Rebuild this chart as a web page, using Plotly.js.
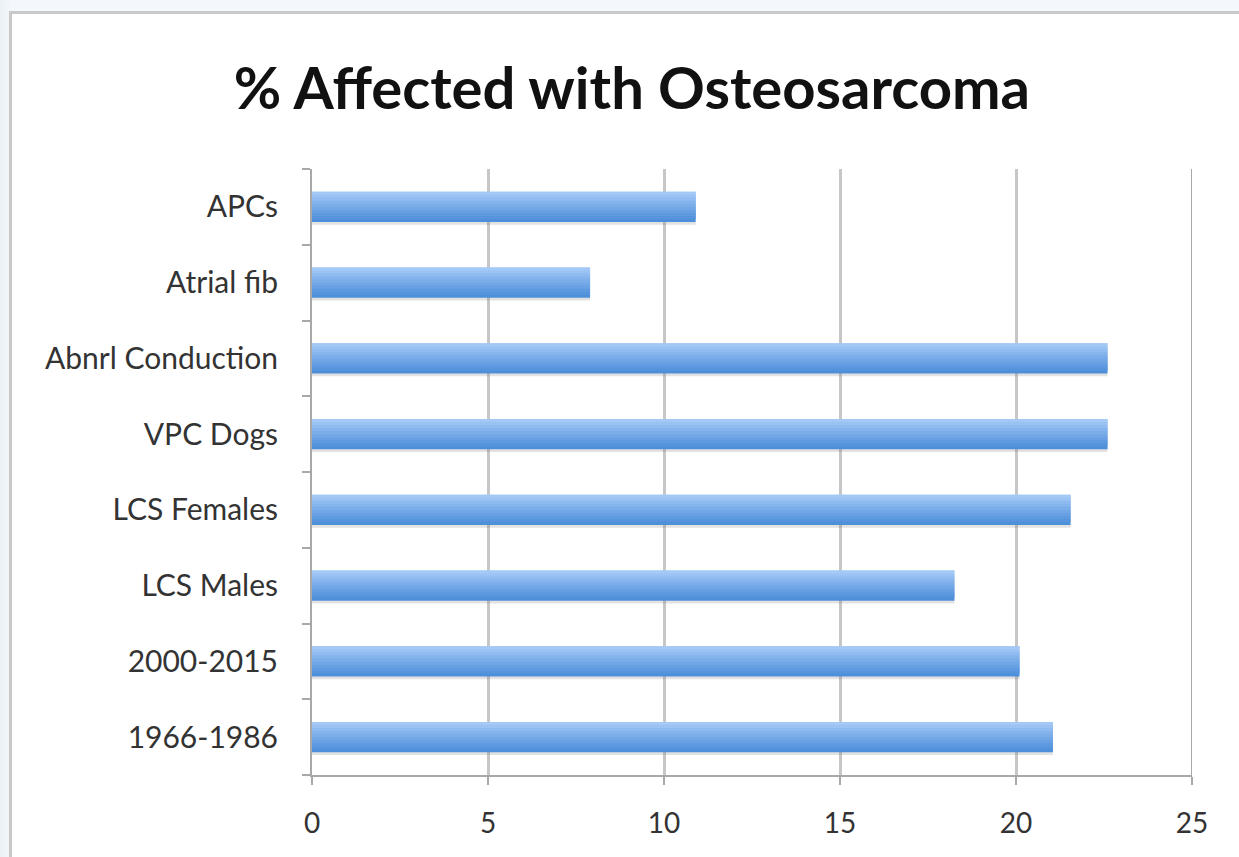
<!DOCTYPE html>
<html>
<head>
<meta charset="utf-8">
<script src="https://cdn.plot.ly/plotly-3.0.1.min.js"></script>
<style>
  html, body { margin: 0; padding: 0; width: 1239px; height: 857px; overflow: hidden;
    background: linear-gradient(90deg, #e9f1f6 0px, #f4f7fb 12px, #f4f7fb 100%); }
  #frame { position: absolute; left: 9px; top: 11px; width: 1300px; height: 900px;
    background: #ffffff; border-left: 3px solid #c9c9c9; border-top: 3px solid #c9c9c9; }
  #chart { position: absolute; left: 0; top: 0; width: 1239px; height: 857px; }
</style>
</head>
<body>
<div id="frame"></div>
<div id="chart"></div>
<script>
// Categories listed top to bottom as shown in the chart
const categories = ['APCs', 'Atrial fib', 'Abnrl Conduction', 'VPC Dogs', 'LCS Females', 'LCS Males', '2000-2015', '1966-1986'];
const values = [10.9, 7.9, 22.6, 22.6, 21.55, 18.25, 20.1, 21.05];
const xTickValues = [0, 5, 10, 15, 20, 25];
const chartTitle = '% Affected with Osteosarcoma';

// Plotly places the first category at the bottom, so reverse for drawing
const yCats = categories.slice().reverse();
const xVals = values.slice().reverse();

const FONT = 'Lato, "Open Sans", sans-serif';
const barThick = 0.4;
const strips = 10;
const step = barThick / strips;
const dark = [78, 143, 218];
const light = [164, 201, 247];

const traces = [];
// soft shadow under each bar
traces.push({
  type: 'bar', orientation: 'h', y: yCats, x: xVals,
  width: 0.05, offset: -barThick / 2 - 0.035,
  marker: { color: 'rgba(110,110,110,0.2)', line: { width: 0 } },
  hoverinfo: 'skip', showlegend: false
});
// vertical gradient built from overlapping thin strips (bottom dark -> top light)
for (let i = 0; i < strips; i++) {
  const t = i / (strips - 1);
  const c = dark.map((d, k) => Math.round(d + (light[k] - d) * Math.pow(t, 1.1)));
  const isTop = i === strips - 1;
  traces.push({
    type: 'bar', orientation: 'h', y: yCats, x: xVals,
    width: isTop ? step : step * 2, offset: -barThick / 2 + i * step,
    marker: { color: `rgb(${c[0]},${c[1]},${c[2]})`, line: { width: 0 } },
    hoverinfo: 'skip', showlegend: false
  });
}

const layout = {
  width: 1239, height: 857,
  paper_bgcolor: 'rgba(0,0,0,0)', plot_bgcolor: 'rgba(0,0,0,0)',
  margin: { l: 312, r: 47, t: 169, b: 82, pad: 0 },
  barmode: 'overlay',
  title: { text: '<b>' + chartTitle + '</b>', x: 0.51, xanchor: 'center', y: 0.897, yanchor: 'middle',
    font: { family: FONT, size: 58, color: '#111111' } },
  xaxis: {
    range: [0, 25], tickvals: xTickValues, ticktext: xTickValues.map(String),
    showgrid: true, gridcolor: '#c6c6c6', gridwidth: 3,
    zeroline: false, showline: true, linecolor: '#a8a8a8', linewidth: 2,
    ticks: 'outside', ticklen: 8, tickwidth: 2, tickcolor: '#a8a8a8',
    tickfont: { family: FONT, size: 28, color: '#333333' }, ticklabelstandoff: 14,
    fixedrange: true
  },
  yaxis: {
    type: 'category', categoryorder: 'array', categoryarray: yCats,
    range: [-0.5, yCats.length - 0.5],
    showgrid: false, zeroline: false, showline: true, linecolor: '#a8a8a8', linewidth: 2,
    ticks: 'outside', tickson: 'boundaries', ticklen: 8, tickwidth: 2, tickcolor: '#a8a8a8',
    tickfont: { family: FONT, size: 30, color: '#333333' }, ticklabelstandoff: 26,
    fixedrange: true
  },
  shapes: [
    { type: 'line', xref: 'x', yref: 'paper', x0: 25, x1: 25, y0: 0, y1: 1,
      line: { color: '#a8a8a8', width: 2 } }
  ]
};

Plotly.newPlot('chart', traces, layout, { staticPlot: true, displayModeBar: false });
</script>
</body>
</html>
